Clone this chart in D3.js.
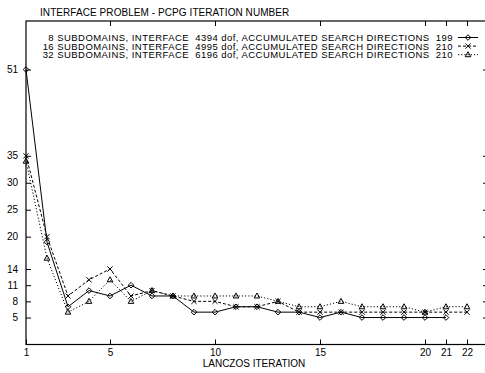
<!DOCTYPE html>
<html lang="en">
<head>
    <meta charset="UTF-8">
    <script src="https://d3js.org/d3.v7.min.js"></script>
    <style>
        body { margin: 0; background: #fff; }
        svg { display: block; }
        text {
            font-family: "Liberation Sans", Arial, sans-serif;
            font-size: 10px;
            fill: #000;
            white-space: pre;
        }
        .legend text { font-size: 9.5px; letter-spacing: 0.45px; }
    </style>
    <title>Interface problem - PCPG iteration number</title>
</head>
<body>
    <script>
        // Lanczos iterations 1..22
        const iterations = d3.range(1, 23);

        const seriesNames = [
            "8 SUBDOMAINS, INTERFACE  4394 dof, ACCUMULATED SEARCH DIRECTIONS  199",
            "16 SUBDOMAINS, INTERFACE  4995 dof, ACCUMULATED SEARCH DIRECTIONS  210",
            "32 SUBDOMAINS, INTERFACE  6196 dof, ACCUMULATED SEARCH DIRECTIONS  210"
        ];

        const sub8 = [51, 19, 7, 10, 9, 11, 9, 9, 6, 6, 7, 7, 6, 6, 5, 6, 5, 5, 5, 5, 5];
        const sub16 = [35, 20, 9, 12, 14, 9, 10, 9, 8, 8, 7, 7, 8, 6, 6, 6, 6, 6, 6, 6, 6, 6];
        const sub32 = [34, 16, 6, 8, 12, 8, 10, 9, 9, 9, 9, 9, 8, 7, 7, 8, 7, 7, 7, 6, 7, 7];

        const xTicks = [1, 5, 10, 15, 20, 21, 22];
        const yTicks = [5, 8, 11, 14, 20, 25, 30, 35, 51];

        const width = 485;
        const height = 373;
        const plotLeft = 26, plotRight = 488, plotTop = 21, plotBottom = 344.5;

        const svg = d3.select("body")
            .append("svg")
            .attr("width", width)
            .attr("height", height);

        const x = d3.scaleLinear().domain([1, 23]).range([plotLeft, plotRight]);
        const y = d3.scaleLinear().domain([0, 60]).range([plotBottom, plotTop]);

        // frame
        svg.append("rect")
            .attr("x", plotLeft).attr("y", plotTop)
            .attr("width", plotRight - plotLeft).attr("height", plotBottom - plotTop)
            .attr("fill", "none").attr("stroke", "#000").attr("stroke-width", 1.2);

        // axes, ticks pointing inward, mirrored on the other side
        svg.append("g")
            .attr("transform", `translate(0,${plotBottom})`)
            .call(d3.axisBottom(x).tickValues(xTicks).tickSizeInner(-5).tickSizeOuter(0).tickPadding(4))
            .call(g => g.select(".domain").remove());
        svg.append("g")
            .attr("transform", `translate(0,${plotTop})`)
            .call(d3.axisTop(x).tickValues(xTicks.slice(1)).tickSize(-5).tickFormat(""))
            .call(g => g.select(".domain").remove());
        svg.append("g")
            .attr("transform", `translate(${plotLeft},0)`)
            .call(d3.axisLeft(y).tickValues(yTicks).tickSizeInner(-5).tickSizeOuter(0).tickPadding(8))
            .call(g => g.select(".domain").remove());
        svg.append("g")
            .attr("transform", `translate(${plotRight},0)`)
            .call(d3.axisRight(y).tickValues(yTicks).tickSize(-5).tickFormat(""))
            .call(g => g.select(".domain").remove());

        svg.selectAll(".tick text")
            .style("font-family", "'Liberation Sans', Arial, sans-serif")
            .style("font-size", "10px");
        svg.selectAll(".tick line").attr("stroke", "#000");

        // titles
        svg.append("text")
            .attr("x", 40).attr("y", 16)
            .style("letter-spacing", "0.07px")
            .text("INTERFACE PROBLEM - PCPG ITERATION NUMBER");
        svg.append("text")
            .attr("x", (plotLeft + plotRight) / 2 - 3).attr("y", 367)
            .attr("text-anchor", "middle")
            .text("LANCZOS ITERATION");

        const series = [
            { name: seriesNames[0], values: sub8, dash: null, marker: "diamond" },
            { name: seriesNames[1], values: sub16, dash: "3,2", marker: "cross" },
            { name: seriesNames[2], values: sub32, dash: "1.2,2", marker: "triangle" }
        ];

        const markerPath = {
            diamond: "M0,-2.8L2.8,0L0,2.8L-2.8,0Z",
            cross: "M-2.6,-2.6L2.6,2.6M-2.6,2.6L2.6,-2.6",
            triangle: "M0,-3L2.8,2L-2.8,2Z"
        };

        const line = d3.line()
            .x((d, i) => x(iterations[i]))
            .y(d => y(d));

        const legend = svg.append("g").attr("class", "legend");

        series.forEach((s, k) => {
            svg.append("path")
                .datum(s.values)
                .attr("d", line)
                .attr("fill", "none")
                .attr("stroke", "#000")
                .attr("stroke-width", 1)
                .attr("stroke-dasharray", s.dash);

            svg.append("g").selectAll("path")
                .data(s.values)
                .join("path")
                .attr("transform", (d, i) => `translate(${x(iterations[i])},${y(d)})`)
                .attr("d", markerPath[s.marker])
                .attr("fill", "none")
                .attr("stroke", "#000")
                .attr("stroke-width", 1);

            // legend entry
            const ly = 37.5 + k * 8.6;
            legend.append("text")
                .attr("x", 453).attr("y", ly + 3.4)
                .attr("text-anchor", "end")
                .text(s.name);
            legend.append("line")
                .attr("x1", 458).attr("x2", 478)
                .attr("y1", ly).attr("y2", ly)
                .attr("stroke", "#000")
                .attr("stroke-dasharray", s.dash);
            legend.append("path")
                .attr("transform", `translate(468,${ly})`)
                .attr("d", markerPath[s.marker])
                .attr("fill", "none")
                .attr("stroke", "#000");
        });
    </script>
</body>
</html>
